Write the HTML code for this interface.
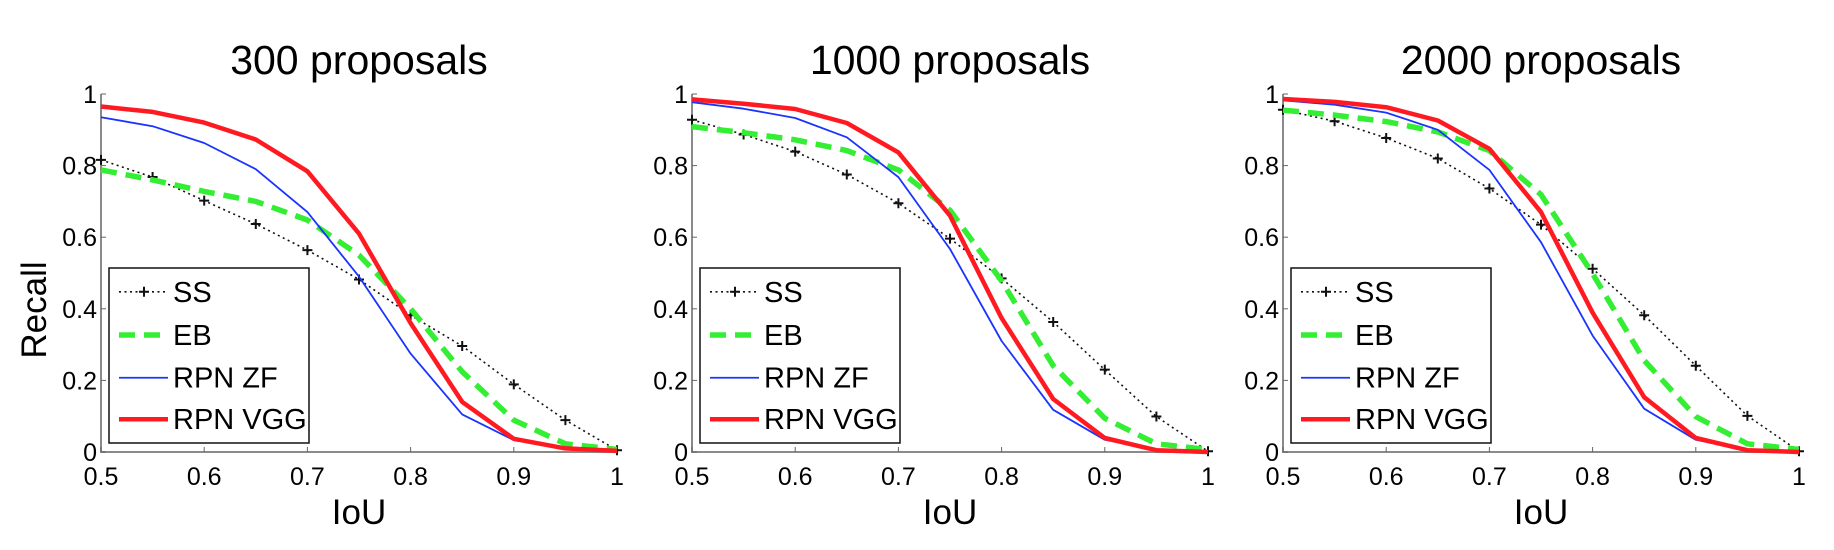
<!DOCTYPE html>
<html><head><meta charset="utf-8"><style>
html,body{margin:0;padding:0;background:#fff;}
svg{display:block;font-family:"Liberation Sans",sans-serif;}
</style></head><body>
<svg id="chart" width="1834" height="550" viewBox="0 0 1834 550"></svg>
<script>
const iou = [0.5,0.55,0.6,0.65,0.7,0.75,0.8,0.85,0.9,0.95,1.0];
const xTicks = [0.5,0.6,0.7,0.8,0.9,1];
const xTickLabels = ["0.5","0.6","0.7","0.8","0.9","1"];
const yTicks = [0,0.2,0.4,0.6,0.8,1];
const yTickLabels = ["0","0.2","0.4","0.6","0.8","1"];
const panelTitles = ["300 proposals","1000 proposals","2000 proposals"];
const seriesNames = ["SS","EB","RPN ZF","RPN VGG"];
// panel 1 (300)
const ss300  = [0.816,0.768,0.702,0.637,0.564,0.482,0.382,0.296,0.189,0.089,0.005];
const eb300  = [0.788,0.760,0.728,0.700,0.648,0.550,0.400,0.224,0.089,0.023,0.007];
const zf300  = [0.935,0.910,0.863,0.790,0.670,0.490,0.275,0.105,0.033,0.014,0.003];
const vgg300 = [0.965,0.950,0.920,0.873,0.784,0.610,0.360,0.140,0.037,0.010,0.003];
// panel 2 (1000)
const ss1000  = [0.928,0.887,0.839,0.775,0.695,0.596,0.485,0.363,0.230,0.099,0.002];
const eb1000  = [0.909,0.892,0.872,0.842,0.788,0.675,0.478,0.241,0.094,0.023,0.007];
const zf1000  = [0.977,0.959,0.933,0.879,0.768,0.567,0.310,0.118,0.034,0.007,0.002];
const vgg1000 = [0.985,0.973,0.958,0.919,0.837,0.660,0.374,0.148,0.039,0.005,0.000];
// panel 3 (2000)
const ss2000  = [0.956,0.924,0.877,0.820,0.736,0.635,0.512,0.382,0.241,0.101,0.002];
const eb2000  = [0.955,0.941,0.923,0.894,0.842,0.719,0.498,0.256,0.099,0.023,0.007];
const zf2000  = [0.982,0.970,0.948,0.900,0.788,0.586,0.325,0.121,0.034,0.005,0.000];
const vgg2000 = [0.986,0.978,0.963,0.926,0.847,0.670,0.389,0.153,0.039,0.005,0.000];

const panelData = [[ss300,eb300,zf300,vgg300],[ss1000,eb1000,zf1000,vgg1000],[ss2000,eb2000,zf2000,vgg2000]];
const panelLeft = [101,692,1283];
const panelWidth = 516;
const yTop = 94, yBot = 452;
const styles = [
 {stroke:"#111",w:1.6,dash:"2 3.5"},
 {stroke:"#33ee33",w:5.5,dash:"16 9"},
 {stroke:"#1a33ff",w:1.8,dash:null},
 {stroke:"#ff1a22",w:4.5,dash:null}
];
const NS="http://www.w3.org/2000/svg";
const svg=document.getElementById("chart");
function mk(tag,attrs,parent){const e=document.createElementNS(NS,tag);for(const k in attrs)e.setAttribute(k,attrs[k]);(parent||svg).appendChild(e);return e;}

panelData.forEach((series,p)=>{
  const L=panelLeft[p];
  const sx=v=>L+(v-0.5)/0.5*panelWidth;
  const sy=v=>yBot-v*(yBot-yTop);
  const g=mk("g",{});
  
  
  const t=mk("text",{x:L+panelWidth/2,y:74,"text-anchor":"middle","font-size":"41"},g);
  t.textContent=panelTitles[p];
  
  
  const ax=mk("path",{d:`M${L} ${yTop} L${L} ${yBot} L${L+panelWidth} ${yBot}`,fill:"none",stroke:"#8a8a8a","stroke-width":"2"},g);
  
  
  xTicks.forEach((v,i)=>{
    mk("line",{x1:sx(v),x2:sx(v),y1:yBot,y2:yBot-5,stroke:"#666","stroke-width":"1"},g);
    const tl=mk("text",{x:sx(v),y:485,"text-anchor":"middle","font-size":"25"},g);
    tl.textContent=xTickLabels[i];
    
    
  });
  yTicks.forEach((v,i)=>{
    mk("line",{x1:L,x2:L+5,y1:sy(v),y2:sy(v),stroke:"#666","stroke-width":"1"},g);
    const tl=mk("text",{x:L-4,y:sy(v)+9,"text-anchor":"end","font-size":"25"},g);
    tl.textContent=yTickLabels[i];
    
    
  });
  const xl=mk("text",{x:L+panelWidth/2,y:524,"text-anchor":"middle","font-size":"35"},g);
  xl.textContent="IoU";
  
  
  series.forEach((vals,s)=>{
    const st=styles[s];
    const d=vals.map((v,i)=>(i?"L":"M")+sx(iou[i]).toFixed(1)+" "+sy(v).toFixed(1)).join(" ");
    const a={d:d,fill:"none",stroke:st.stroke,"stroke-width":st.w,"stroke-linejoin":"round"};
    if(st.dash)a["stroke-dasharray"]=st.dash;
    const pth=mk("path",a,g);
    
    
    if(s===0){
      vals.forEach((v,i)=>{
        const m=mk("path",{d:`M${sx(iou[i])-5} ${sy(v)} h10 M${sx(iou[i])} ${sy(v)-5} v10`,stroke:"#111","stroke-width":"2"},g);
        
        
      });
    }
  });
  const lx=L+8, ly=268, lw=200, lh=175;
  const lg=mk("g",{},g);
  
  
  mk("rect",{x:lx,y:ly,width:lw,height:lh,fill:"#fff",stroke:"#111","stroke-width":"1.5"},lg);
  const fr=[0.136,0.383,0.627,0.864];
  seriesNames.forEach((n,s)=>{
    const st=styles[s];
    const yy=ly+fr[s]*lh;
    const e=mk("g",{},lg);
    
    
    const a={x1:lx+10,x2:lx+59,y1:yy,y2:yy,stroke:st.stroke,"stroke-width":st.w};
    if(st.dash)a["stroke-dasharray"]=st.dash;
    mk("line",a,e);
    if(s===0) mk("path",{d:`M${lx+30} ${yy} h10 M${lx+35} ${yy-5} v10`,stroke:"#111","stroke-width":"2"},e);
    const tx=mk("text",{x:lx+64,y:yy+10,"font-size":"29"},e);
    tx.textContent=n;
  });
});
const yl=mk("text",{x:0,y:0,"text-anchor":"middle","font-size":"35",transform:"translate(46,310) rotate(-90)"});
yl.textContent="Recall";


</script>
</body></html>
